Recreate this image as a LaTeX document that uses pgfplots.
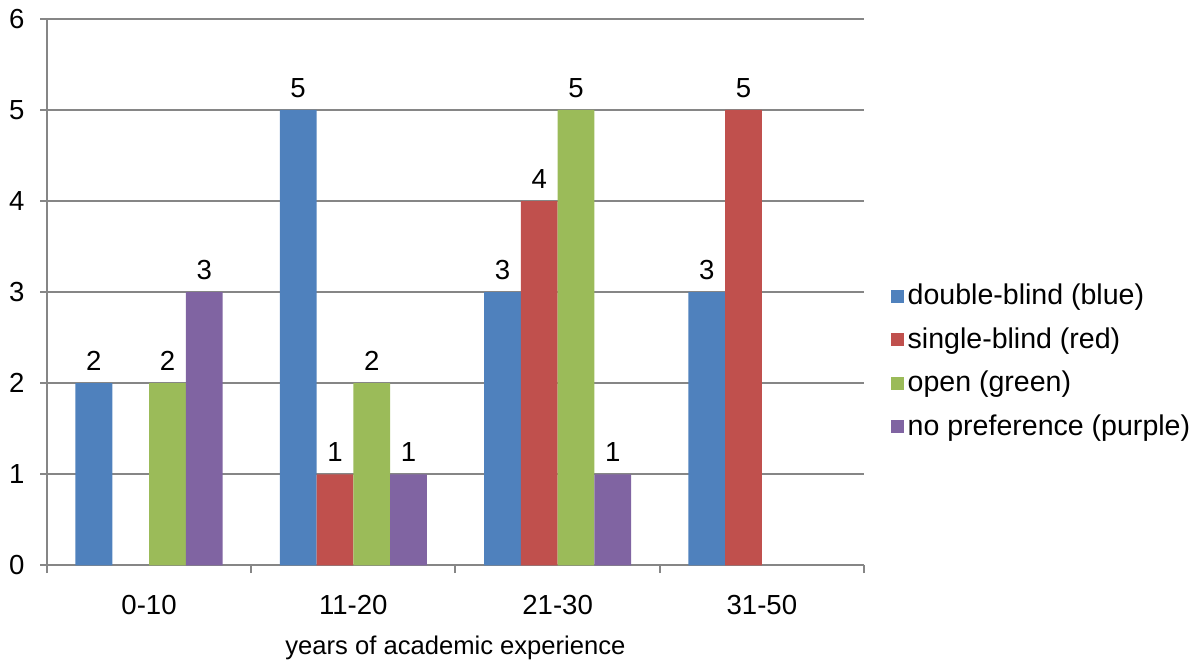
\documentclass[border=0pt]{standalone}
\usepackage{fontspec}
\setmainfont{Liberation Sans}
\usepackage{pgfplots}
\pgfplotsset{compat=1.18}
\definecolor{cblue}{HTML}{4F81BD}
\definecolor{cred}{HTML}{C0504D}
\definecolor{cgreen}{HTML}{9BBB59}
\definecolor{cpurple}{HTML}{8064A2}
\definecolor{axgray}{RGB}{134,134,134}

\begin{document}
\fontsize{14}{16.8}\selectfont
\begin{tikzpicture}
\begin{axis}[
  scale only axis, width=415pt, height=277.5pt,
  ybar=0pt, bar width=0.18,
  xmin=-0.5, xmax=3.5, ymin=0, ymax=6,
  ytick={0,1,2,3,4,5,6},
  xtick={0,1,2,3}, xticklabels={0-10,11-20,21-30,31-50},
  minor xtick={-0.5,0.5,1.5,2.5,3.5},
  axis x line*=bottom, axis y line*=left,
  axis line style={draw=axgray, line width=1pt},
  ymajorgrids, grid style={draw=axgray, line width=1pt},
  tick align=outside,
  major x tick style={draw=none},
  minor x tick style={draw=axgray, line width=1pt},
  y tick style={draw=axgray, line width=1pt},
  major tick length=3.5pt, minor tick length=4pt,
  ticklabel style={font=\fontsize{14}{16.8}\selectfont},
  yticklabel style={xshift=-3pt},
  xticklabel style={yshift=-7pt},
  /pgf/number format/assume math mode=true,
  xlabel={years of academic experience},
  xlabel style={font=\fontsize{13}{15.6}\selectfont, yshift=-1pt},
  nodes near coords,
  nodes near coords style={font=\fontsize{14}{16.8}\selectfont, text=black, yshift=1.5pt},
  legend style={draw=none, at={(1.025,0.373)}, anchor=west,
    row sep=5.5pt, font=\fontsize{14.5}{17.4}\selectfont,
    /tikz/every even column/.append style={column sep=1pt}},
  legend cell align=left,
  legend image code/.code={\fill[#1] (0pt,-3.3pt) rectangle (6.6pt,3.3pt);},
]
\addplot[fill=cblue, draw=none] coordinates {(0,2)(1,5)(2,3)(3,3)};
\addplot[fill=cred, draw=none] coordinates {(1,1)(2,4)(3,5)};
\addplot[fill=cgreen, draw=none] coordinates {(0,2)(1,2)(2,5)};
\addplot[fill=cpurple, draw=none] coordinates {(0,3)(1,1)(2,1)};
\legend{double-blind (blue), single-blind (red), open (green), no preference (purple)}
\end{axis}
\end{tikzpicture}
\end{document}
